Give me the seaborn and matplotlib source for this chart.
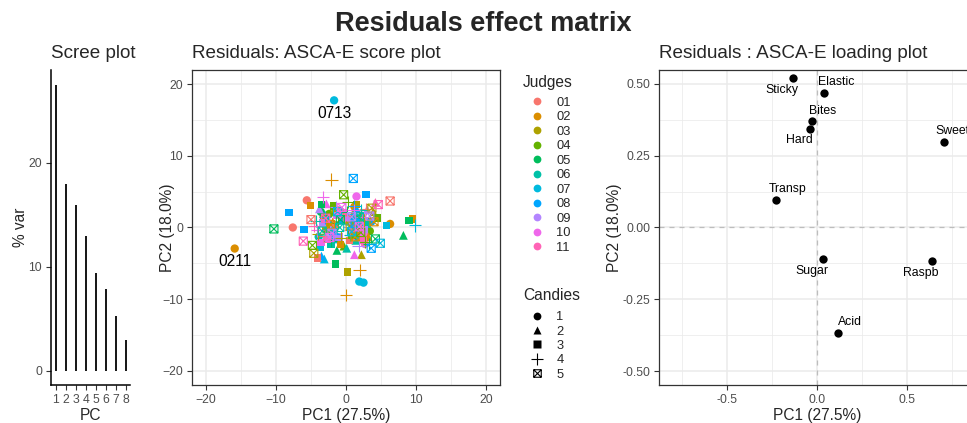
import numpy as np
import pandas as pd
import matplotlib
matplotlib.use("Agg")
import matplotlib.pyplot as plt
import seaborn as sns
from matplotlib.path import Path
from matplotlib.markers import MarkerStyle
from matplotlib.lines import Line2D

# ---------------- data ----------------
pc_labels = ["1", "2", "3", "4", "5", "6", "7", "8"]
pct_var = [27.5, 18.0, 15.9, 13.0, 9.4, 7.9, 5.3, 3.0]

judges = ["01", "02", "03", "04", "05", "06", "07", "08", "09", "10", "11"]
candies = ["1", "2", "3", "4", "5"]
replicates = ["1", "2", "3"]

# per judge: candy1 rep1-3, candy2 rep1-3, ..., candy5 rep1-3
s01_pc1 = [-5.6, -7.6, 1.8, -1.0, 0.8, 2.6, -4.05, -1.5, 0.5, -3.0, 2.8, -0.4, 6.3, -5.0, 1.6]
s01_pc2 = [3.8, 0.0, 1.2, 2.5, -0.6, 1.4, -4.3, 0.4, -1.8, -1.2, 2.6, 1.8, 3.7, 1.1, -0.2]
s02_pc1 = [-15.9, 6.3, 1.2, 1.0, -1.9, 3.2, -5.05, 9.5, -0.8, -2.1, 1.95, 0.04, -2.2, 1.3, 4.0]
s02_pc2 = [-2.94, 0.5, 2.9, 2.0, 0.8, -1.3, 3.1, 1.2, -2.4, 6.7, -5.9, -9.45, 0.4, -1.3, 0.8]
s03_pc1 = [-3.2, 0.4, 2.3, 2.2, -1.6, 3.9, 0.19, -2.9, 1.5, -0.7, 2.5, -4.0, -4.6, 3.7, 0.6]
s03_pc2 = [1.5, 0.8, -0.9, -3.8, 2.7, 2.2, -6.2, 0.2, 3.2, -1.4, 1.0, -0.9, -3.6, 2.7, 0.2]
s04_pc1 = [-2.4, 1.1, 3.4, -0.3, 2.0, -2.8, -1.8, 0.9, 4.4, -1.2, 2.7, 0.3, -0.34, -4.8, 2.1]
s04_pc2 = [1.9, 0.3, -0.5, -2.6, 1.7, -0.2, 3.0, -1.1, 1.3, 0.6, -2.0, 3.6, 4.57, -2.5, -0.7]
s05_pc1 = [-3.6, 0.7, 2.9, 8.2, -1.3, 1.5, 9.0, -1.5, -3.5, 0.2, -2.2, 3.3, -10.3, 4.2, -0.8]
s05_pc2 = [2.2, -0.3, 0.9, -1.1, -3.2, 1.6, 1.0, -5.1, 3.2, 2.1, -1.9, -2.3, -0.2, -1.6, 1.1]
s06_pc1 = [-1.7, 2.4, -3.9, 1.4, -2.6, 0.1, -2.1, 3.0, 1.2, -4.3, 0.6, 2.2, -3.4, 1.9, -0.9]
s06_pc2 = [-0.4, 0.5, -1.3, -1.8, 1.2, -2.9, -2.3, 0.4, 0.9, 0.9, -1.0, 2.4, -0.5, 1.5, 0.0]
s07_pc1 = [1.9, 2.5, -1.7, -3.1, 0.5, -1.1, 5.8, -3.7, 2.1, 9.85, -2.0, 1.0, 4.9, -1.2, 0.8]
s07_pc2 = [-7.55, -7.7, 17.76, -4.4, 0.9, -1.6, 0.3, -2.7, -1.2, 0.3, -0.8, 1.9, -2.2, 2.2, -0.6]
s08_pc1 = [-0.6, 1.6, 3.6, -3.5, 1.5, -0.6, 2.9, -8.1, -6.0, -3.0, 1.2, -1.7, 1.04, 3.6, 1.3]
s08_pc2 = [2.1, -0.9, 0.8, -4.0, 2.6, 1.0, 4.6, 2.1, -0.3, 1.4, 3.0, -0.9, 6.85, -2.9, 0.6]
s09_pc1 = [-2.6, 0.3, 2.0, -3.8, 1.0, 3.0, -1.0, 2.6, -3.3, 0.4, -1.4, 1.8, -2.0, 3.4, 0.8]
s09_pc2 = [0.3, 1.4, -1.7, 2.6, -0.2, 2.5, -1.3, -0.3, 0.6, 0.1, 2.9, -2.6, -0.8, 1.6, 1.5]
s10_pc1 = [1.5, -1.9, 2.6, 1.2, -2.8, 0.3, -1.3, 2.2, -3.6, -3.3, 1.1, -4.1, -2.3, 1.9, -0.6]
s10_pc2 = [4.34, -1.5, -1.1, -3.8, 3.3, 1.3, 1.7, -0.8, -2.1, 4.25, 2.4, -0.4, -1.4, 0.1, 2.8]
s11_pc1 = [-1.3, 0.9, 2.7, 4.2, -1.8, 0.7, -0.4, 2.4, -2.7, -4.6, 2.3, 0.6, -6.1, 4.6, -2.9]
s11_pc2 = [2.4, 0.7, -2.3, 3.5, -0.6, -1.2, 2.0, -1.8, -1.7, 0.2, 1.4, -0.3, -1.9, 3.2, 1.3]

outlier_labels = ["0211", "0713"]

load_vars = ["Sticky", "Elastic", "Bites", "Hard", "Sweet", "Transp", "Sugar", "Raspb", "Acid"]
load_pc1 = [-0.132, 0.042, -0.028, -0.035, 0.707, -0.224, 0.033, 0.639, 0.120]
load_pc2 = [0.519, 0.469, 0.371, 0.343, 0.297, 0.097, -0.110, -0.117, -0.366]

judge_colors = ["#F8766D", "#DB8E00", "#AEA200", "#64B200", "#00BD5C", "#00C1A7",
                "#00BADE", "#00A6FF", "#B385FF", "#EF67EB", "#FF63B6"]

# ---------------- build tables ----------------
pc1_lists = [s01_pc1, s02_pc1, s03_pc1, s04_pc1, s05_pc1, s06_pc1,
             s07_pc1, s08_pc1, s09_pc1, s10_pc1, s11_pc1]
pc2_lists = [s01_pc2, s02_pc2, s03_pc2, s04_pc2, s05_pc2, s06_pc2,
             s07_pc2, s08_pc2, s09_pc2, s10_pc2, s11_pc2]
rows = []
for j, p1, p2 in zip(judges, pc1_lists, pc2_lists):
    k = 0
    for c in candies:
        for r in replicates:
            rows.append(dict(judge=j, candy=c, rep=r, PC1=p1[k], PC2=p2[k],
                             id=j + c + r))
            k += 1
scores = pd.DataFrame(rows)
scree = pd.DataFrame(dict(PC=pc_labels, var=pct_var))
loads = pd.DataFrame(dict(var=load_vars, PC1=load_pc1, PC2=load_pc2))

# ---------------- style ----------------
sns.set_theme(style="white")
plt.rcParams["font.family"] = ["Liberation Sans", "DejaVu Sans"]
TICK_C = "#4D4D4D"
GRID_C = "#EBEBEB"
BORDER_C = "#333333"
TICK_FS = 8.8
LAB_FS = 11.2
TITLE_FS = 13.6

W, H = 967, 423
fig = plt.figure(figsize=(W / 100, H / 100), dpi=100)


def ax_px(left, right, top, bottom):
    return fig.add_axes([left / W, 1 - bottom / H, (right - left) / W, (bottom - top) / H])


def style_ticks(ax):
    ax.tick_params(axis="both", which="major", length=3.8, width=0.8, color=BORDER_C,
                   labelsize=TICK_FS, labelcolor=TICK_C, pad=2.5, direction="out",
                   bottom=True, left=True)


# ---------------- scree plot ----------------
ax1 = ax_px(50.7, 130, 70, 385)
sns.barplot(data=scree, x="PC", y="var", color="#1A1A1A", width=0.2, linewidth=0,
            saturation=1, ax=ax1)
ax1.set_xlim(-0.53, 7.42)
ax1.set_ylim(-1.35, 28.9)
ax1.set_yticks([0, 10, 20])
for s in ["top", "right"]:
    ax1.spines[s].set_visible(False)
for s in ["left", "bottom"]:
    ax1.spines[s].set_color("black")
    ax1.spines[s].set_linewidth(1.1)
style_ticks(ax1)
ax1.set_xlabel("PC", fontsize=LAB_FS, va="baseline")
ax1.xaxis.set_label_coords(0.5, -35 / 315)
ax1.set_ylabel("% var", fontsize=LAB_FS, va="center")
ax1.yaxis.set_label_coords(-30.5 / 79.3, 0.5)
fig.text(50.7 / W, 1 - 58.5 / H, "Scree plot", fontsize=TITLE_FS, va="baseline", ha="left")


def bw_panel(ax):
    for s in ax.spines.values():
        s.set_visible(True)
        s.set_color(BORDER_C)
        s.set_linewidth(0.9)
    ax.grid(True, which="major", color=GRID_C, linewidth=1.1, zorder=0)
    ax.grid(True, which="minor", color=GRID_C, linewidth=0.55, zorder=0)
    ax.set_axisbelow(True)
    ax.tick_params(which="minor", length=0)
    style_ticks(ax)


# ---------------- score plot ----------------
ax2 = ax_px(192, 500, 70, 385)
box_x = Path([(-1, -1), (1, -1), (1, 1), (-1, 1), (-1, -1), (-1, -1), (1, 1), (-1, 1), (1, -1)],
             [Path.MOVETO, Path.LINETO, Path.LINETO, Path.LINETO, Path.CLOSEPOLY,
              Path.MOVETO, Path.LINETO, Path.MOVETO, Path.LINETO])
candy_markers = {"1": "o", "2": "^", "3": "s", "4": "+", "5": box_x}
candy_sizes = {"1": 36, "2": 40, "3": 30, "4": 80, "5": 34}
pal = dict(zip(judges, judge_colors))
for c in candies:
    sub = scores[scores.candy == c]
    lw = 0 if c in ("1", "2", "3") else 0.8
    sns.scatterplot(data=sub, x="PC1", y="PC2", hue="judge", hue_order=judges,
                    palette=pal, marker=candy_markers[c], s=candy_sizes[c],
                    linewidth=lw, legend=False, ax=ax2, zorder=3)
    coll = ax2.collections[-1]
    if c == "5":
        fc = coll.get_facecolors()
        coll.set_edgecolors(fc)
        coll.set_facecolors("none")
        coll.set_linewidth(0.8)
    elif c == "4":
        fc = coll.get_facecolors()
        coll.set_edgecolors(fc)
        coll.set_linewidth(0.8)
    else:
        coll.set_edgecolors("none")

for lab in outlier_labels:
    row = scores[scores.id == lab].iloc[0]
    ax2.annotate(lab, (row.PC1, row.PC2), xytext=(0, -9.4), textcoords="offset points",
                 ha="center", va="center", fontsize=11.2, color="black", zorder=4)

ax2.set_xlim(-22, 22)
ax2.set_ylim(-22, 22)
ax2.set_xticks([-20, -10, 0, 10, 20])
ax2.set_yticks([-20, -10, 0, 10, 20])
ax2.set_xticks([-15, -5, 5, 15], minor=True)
ax2.set_yticks([-15, -5, 5, 15], minor=True)
bw_panel(ax2)
ax2.set_xlabel("PC1 (27.5%)", fontsize=LAB_FS, va="baseline")
ax2.xaxis.set_label_coords(0.5, -35 / 315)
ax2.set_ylabel("PC2 (18.0%)", fontsize=LAB_FS, va="center")
ax2.yaxis.set_label_coords(-24.5 / 308, 0.5)
fig.text(192 / W, 1 - 58.5 / H, "Residuals: ASCA-E score plot", fontsize=TITLE_FS,
         va="baseline", ha="left")

# legends
LEG_FS = 9.3
judge_handles = [Line2D([], [], marker="o", linestyle="none", markersize=5.6,
                        markerfacecolor=col, markeredgecolor="none") for col in judge_colors]
leg1 = fig.legend(judge_handles, judges, loc="upper left",
                  bbox_to_anchor=(529.3 / W, 1 - 96.6 / H), frameon=False,
                  fontsize=LEG_FS, labelspacing=0.19, borderpad=0,
                  handletextpad=0.9, handlelength=1.2, borderaxespad=0)
fig.text(523 / W, 1 - 86.5 / H, "Judges", fontsize=LAB_FS, ha="left", va="baseline")

cand_handles = []
for c in candies:
    m = candy_markers[c]
    if c == "5":
        cand_handles.append(Line2D([], [], marker=MarkerStyle(box_x, fillstyle="none"),
                                   linestyle="none", markersize=5.4,
                                   markeredgecolor="black", markeredgewidth=0.8))
    elif c == "4":
        cand_handles.append(Line2D([], [], marker="+", linestyle="none", markersize=8.5,
                                   markeredgecolor="black", markeredgewidth=0.8))
    else:
        ms = {"1": 5.6, "2": 6.2, "3": 5.2}[c]
        cand_handles.append(Line2D([], [], marker=m, linestyle="none", markersize=ms,
                                   markerfacecolor="black", markeredgecolor="none"))
leg2 = fig.legend(cand_handles, candies, loc="upper left",
                  bbox_to_anchor=(529.3 / W, 1 - 311.2 / H), frameon=False,
                  fontsize=LEG_FS, labelspacing=0.18, borderpad=0,
                  handletextpad=0.9, handlelength=1.2, borderaxespad=0)
fig.text(523 / W, 1 - 300.5 / H, "Candies", fontsize=LAB_FS, ha="left", va="baseline")

# ---------------- loading plot ----------------
ax3 = ax_px(659, 974.4, 70, 385)
ax3.axhline(0, color="#BDBDBD", linestyle=(0, (4, 4)), linewidth=0.9, zorder=1)
ax3.axvline(0, color="#BDBDBD", linestyle=(0, (4, 4)), linewidth=0.9, zorder=1)
sns.scatterplot(data=loads, x="PC1", y="PC2", color="black", s=36, linewidth=0,
                legend=False, ax=ax3, zorder=3)
label_offsets = {"Sticky": (-7.7, -8.6), "Elastic": (8.4, 7.6), "Bites": (7.9, 7.4),
                 "Hard": (-7.9, -8.2), "Sweet": (6.3, 7.9), "Transp": (7.9, 7.7),
                 "Sugar": (-7.7, -8.4), "Raspb": (-7.7, -8.2), "Acid": (8.2, 7.7)}
for v, x, y in zip(loads["var"], loads["PC1"], loads["PC2"]):
    ax3.annotate(v, (x, y), xytext=label_offsets[v], textcoords="offset points",
                 ha="center", va="center", fontsize=8.8, color="black", zorder=4,
                 annotation_clip=False)
ax3.set_xlim(-0.876, 0.876)
ax3.set_ylim(-0.548, 0.548)
ax3.set_xticks([-0.5, 0.0, 0.5])
ax3.set_xticklabels(["-0.5", "0.0", "0.5"])
ax3.set_yticks([-0.5, -0.25, 0, 0.25, 0.5])
ax3.set_yticklabels(["-0.50", "-0.25", "0.00", "0.25", "0.50"])
ax3.set_xticks([-0.75, -0.25, 0.25, 0.75], minor=True)
ax3.set_yticks([-0.375, -0.125, 0.125, 0.375], minor=True)
bw_panel(ax3)
ax3.set_xlabel("PC1 (27.5%)", fontsize=LAB_FS, va="baseline")
ax3.xaxis.set_label_coords(0.5, -35 / 315)
ax3.set_ylabel("PC2 (18.0%)", fontsize=LAB_FS, va="center")
ax3.yaxis.set_label_coords(-44 / 315.4, 0.5)
fig.text(659 / W, 1 - 58.5 / H, "Residuals : ASCA-E loading plot", fontsize=TITLE_FS,
         va="baseline", ha="left")

# ---------------- main title ----------------
fig.text(0.5, 1 - 31 / H, "Residuals effect matrix", fontsize=19.5, fontweight="bold",
         ha="center", va="baseline")

fig.savefig("out.png", dpi=100, facecolor="white")
